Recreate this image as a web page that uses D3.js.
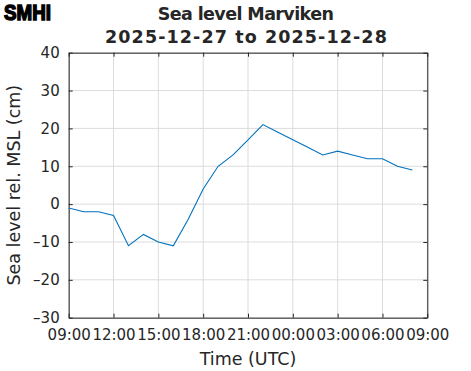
<!DOCTYPE html>
<html>
<head>
<meta charset="utf-8">
<script src="https://cdn.jsdelivr.net/npm/d3@7"></script>
<style>
  body { margin: 0; background: #fff; }
  text { font-family: "DejaVu Sans", sans-serif; fill: #262626; }
</style>
</head>
<body>
<svg id="chart" width="471" height="371"></svg>
<script>
// hourly observations, UTC
const times = [
  '2025-12-27T09:00Z', '2025-12-27T10:00Z', '2025-12-27T11:00Z', '2025-12-27T12:00Z',
  '2025-12-27T13:00Z', '2025-12-27T14:00Z', '2025-12-27T15:00Z', '2025-12-27T16:00Z',
  '2025-12-27T17:00Z', '2025-12-27T18:00Z', '2025-12-27T19:00Z', '2025-12-27T20:00Z',
  '2025-12-27T21:00Z', '2025-12-27T22:00Z', '2025-12-27T23:00Z', '2025-12-28T00:00Z',
  '2025-12-28T01:00Z', '2025-12-28T02:00Z', '2025-12-28T03:00Z', '2025-12-28T04:00Z',
  '2025-12-28T05:00Z', '2025-12-28T06:00Z', '2025-12-28T07:00Z', '2025-12-28T08:00Z'
];
const seaLevel = [-1, -2, -2, -3, -11, -8, -10, -11, -4, 4, 10, 13,
                  17, 21, 19, 17, 15, 13, 14, 13, 12, 12, 10, 9];
const yTicks = [-30, -20, -10, 0, 10, 20, 30, 40];
const xDomain = ['2025-12-27T09:00Z', '2025-12-28T09:00Z'];

const margin = { left: 68.7, right: 427.3, top: 52.7, bottom: 317.7 };
const svg = d3.select('#chart');

const x = d3.scaleUtc()
  .domain(xDomain.map(d => new Date(d)))
  .range([margin.left, margin.right]);
const y = d3.scaleLinear()
  .domain([-30, 40])
  .range([margin.bottom, margin.top]);

const xTickVals = x.ticks(d3.utcHour.every(3));

// grid
svg.append('g').selectAll('line.gx')
  .data(xTickVals)
  .enter().append('line')
    .attr('x1', d => x(d)).attr('x2', d => x(d))
    .attr('y1', margin.top).attr('y2', margin.bottom)
    .attr('stroke', '#dcdcdc').attr('stroke-width', 1);
svg.append('g').selectAll('line.gy')
  .data(yTicks)
  .enter().append('line')
    .attr('x1', margin.left).attr('x2', margin.right)
    .attr('y1', d => y(d)).attr('y2', d => y(d))
    .attr('stroke', '#dcdcdc').attr('stroke-width', 1);

// axes (ticks pointing inward, matlab box style)
const fmt = d3.utcFormat('%H:%M');
const xAxis = d3.axisBottom(x).tickValues(xTickVals).tickFormat(fmt)
  .tickSizeInner(-4).tickSizeOuter(0).tickPadding(12);
const yAxis = d3.axisLeft(y).tickValues(yTicks)
  .tickFormat(d => String(d).replace('-', '\u2013'))
  .tickSizeInner(-4).tickSizeOuter(0).tickPadding(9);

const gx = svg.append('g')
  .attr('transform', 'translate(0,' + margin.bottom + ')')
  .call(xAxis);
const gy = svg.append('g')
  .attr('transform', 'translate(' + margin.left + ',0)')
  .call(yAxis);
svg.append('g')
  .attr('transform', 'translate(0,' + margin.top + ')')
  .call(d3.axisTop(x).tickValues(xTickVals).tickSizeInner(-4).tickSizeOuter(0).tickFormat(''));
svg.append('g')
  .attr('transform', 'translate(' + margin.right + ',0)')
  .call(d3.axisRight(y).tickValues(yTicks).tickSizeInner(-4).tickSizeOuter(0).tickFormat(''));

svg.selectAll('.domain').attr('stroke', '#262626');
svg.selectAll('.tick line').attr('stroke', '#262626');
svg.selectAll('.tick text')
  .style('font-family', '"DejaVu Sans", sans-serif')
  .style('font-size', '15px')
  .attr('fill', '#262626');
gx.selectAll('.tick text').attr('dy', '0.71em');

// line
const line = d3.line()
  .x((d, i) => x(new Date(times[i])))
  .y(d => y(d));
svg.append('path')
  .datum(seaLevel)
  .attr('d', line)
  .attr('fill', 'none')
  .attr('stroke', '#0072BD')
  .attr('stroke-width', 1.1);

// labels
svg.append('text')
  .attr('x', (margin.left + margin.right) / 2).attr('y', 365)
  .attr('text-anchor', 'middle')
  .style('font-size', '17.5px')
  .text('Time (UTC)');
svg.append('text')
  .attr('transform', 'translate(20,' + ((margin.top + margin.bottom) / 2) + ') rotate(-90)')
  .attr('text-anchor', 'middle')
  .style('font-size', '17.5px')
  .text('Sea level rel. MSL (cm)');

svg.append('text')
  .attr('x', 245.5).attr('y', 20)
  .attr('text-anchor', 'middle')
  .style('font-size', '17.5px').style('font-weight', 'bold')
  .style('letter-spacing', '-0.6px')
  .attr('fill', '#000')
  .text('Sea level Marviken');
svg.append('text')
  .attr('x', 246.5).attr('y', 43.3)
  .attr('text-anchor', 'middle')
  .style('font-size', '17.5px').style('font-weight', 'bold')
  .style('letter-spacing', '1.1px')
  .attr('fill', '#000')
  .text('2025-12-27 to 2025-12-28');

// logo
svg.append('text')
  .attr('x', 4).attr('y', 19.5)
  .attr('textLength', 47).attr('lengthAdjust', 'spacingAndGlyphs')
  .style('font-family', '"Liberation Sans Narrow", "Liberation Sans", sans-serif')
  .style('font-size', '21.5px').style('font-weight', 'bold')
  .style('fill', '#000').attr('stroke', '#000').attr('stroke-width', 1.5)
  .text('SMHI');
</script>
</body>
</html>
